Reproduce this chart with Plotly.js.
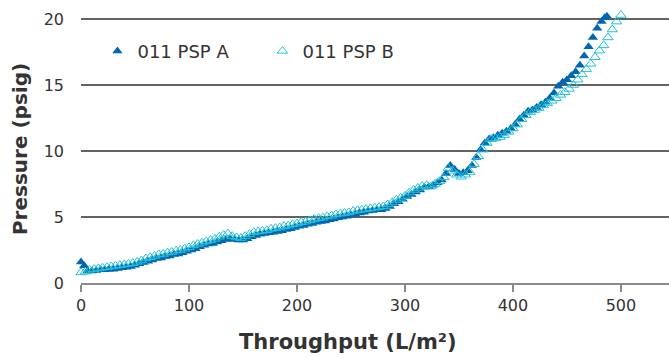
<!DOCTYPE html>
<html>
<head>
<meta charset="utf-8">
<script src="https://cdn.plot.ly/plotly-3.0.1.min.js"></script>
<style>html,body{margin:0;padding:0;background:#fff;}#chart{width:669px;height:358px;}</style>
</head>
<body>
<div id="chart"></div>
<script>
const seriesAName = "011 PSP A";
const seriesBName = "011 PSP B";

const throughputA = [0,3,6,10,14,18,22,26,30,34,38,42,46,50,54,58,62,66,70,74,78,82,86,90,94,98,102,106,110,114,118,122,126,130,134,138,142,146,150,154,158,162,166,170,174,178,182,186,190,194,198,202,206,210,214,218,222,226,230,234,238,242,246,250,254,258,262,266,270,274,278,282,286,290,294,298,302,306,310,314,318,322,326,330,334,338,342,346,350,354,358,362,366,370,374,378,382,386,390,394,398,402,406,410,414,418,422,426,430,434,438,442,446,450,454,458,462,466,470,474,478,482,485,487];
const pressureA = [1.6,1.3,0.9,0.9,0.95,1.0,1.0,1.05,1.05,1.1,1.15,1.2,1.25,1.35,1.45,1.55,1.65,1.75,1.85,1.9,2.0,2.05,2.15,2.2,2.3,2.4,2.5,2.6,2.75,2.85,2.95,3.0,3.1,3.2,3.3,3.35,3.3,3.25,3.25,3.35,3.5,3.6,3.7,3.75,3.8,3.85,3.9,3.95,4.05,4.1,4.2,4.3,4.35,4.45,4.5,4.6,4.65,4.7,4.8,4.85,4.95,5.0,5.05,5.15,5.2,5.3,5.35,5.45,5.5,5.55,5.55,5.65,5.8,6.0,6.15,6.35,6.55,6.7,6.9,7.05,7.25,7.3,7.4,7.6,7.8,8.3,8.9,8.6,8.3,8.35,8.5,8.9,9.5,10.1,10.6,10.9,11.0,11.2,11.35,11.5,11.7,12.0,12.4,12.7,13.0,13.1,13.3,13.5,13.7,14.0,14.4,14.9,15.2,15.4,15.7,16.0,16.5,17.2,17.9,18.6,19.3,19.8,20.1,20.2];

const throughputB = [0,4,8,12,16,20,24,28,32,36,40,44,48,52,56,60,64,68,72,76,80,84,88,92,96,100,104,108,112,116,120,124,128,132,136,140,144,148,152,156,160,164,168,172,176,180,184,188,192,196,200,204,208,212,216,220,224,228,232,236,240,244,248,252,256,260,264,268,272,276,280,284,288,292,296,300,304,308,312,316,320,324,328,332,336,340,344,348,352,356,360,364,368,372,376,380,384,388,392,396,400,404,408,412,416,420,424,428,432,436,440,444,448,452,456,460,464,468,472,476,480,484,488,492,496,500];
const pressureB = [0.8,0.85,1.0,1.05,1.1,1.15,1.2,1.25,1.3,1.35,1.4,1.45,1.5,1.6,1.7,1.85,1.95,2.05,2.15,2.2,2.3,2.35,2.45,2.5,2.6,2.7,2.85,2.95,3.05,3.15,3.25,3.35,3.5,3.65,3.75,3.55,3.45,3.4,3.55,3.7,3.85,3.9,3.95,4.0,4.1,4.15,4.2,4.3,4.35,4.45,4.5,4.6,4.65,4.75,4.85,4.9,4.95,5.05,5.1,5.2,5.25,5.3,5.35,5.45,5.5,5.55,5.6,5.65,5.7,5.75,5.8,5.95,6.1,6.3,6.45,6.6,6.85,7.05,7.2,7.35,7.4,7.3,7.5,7.7,8.0,8.7,8.5,8.2,8.05,8.2,8.4,9.0,9.6,10.1,10.6,10.9,10.95,11.05,11.2,11.45,11.7,12.0,12.4,12.7,12.95,13.1,13.25,13.45,13.6,13.8,14.0,14.25,14.45,14.7,15.0,15.4,15.8,16.2,16.6,17.1,17.6,18.0,18.6,19.2,19.8,20.3];

const xTickVals = [0,100,200,300,400,500];
const yTickVals = [0,5,10,15,20];
const xTitleText = "Throughput (L/m²)";
const yTitleText = "Pressure (psig)";

const fontFamily = "DejaVu Sans, Verdana, sans-serif";

const traces = [
  {
    x: throughputA, y: pressureA, name: seriesAName,
    type: "scatter", mode: "markers", cliponaxis: false,
    marker: {symbol: "triangle-up", size: 9, color: "#0066b3", line: {width: 0}}
  },
  {
    x: throughputB, y: pressureB, name: seriesBName,
    type: "scatter", mode: "markers", cliponaxis: false,
    marker: {symbol: "triangle-up-open", size: 9, color: "#22c3d6", line: {width: 1}}
  }
];

const layout = {
  width: 669, height: 358,
  margin: {l: 81, r: 0, t: 15, b: 75, pad: 0},
  paper_bgcolor: "#ffffff", plot_bgcolor: "#ffffff",
  font: {family: fontFamily, size: 16, color: "#333333"},
  showlegend: true,
  legend: {
    orientation: "h", x: 0.028, xanchor: "left", y: 0.865, yanchor: "middle",
    font: {family: fontFamily, size: 18, color: "#333333"},
    bgcolor: "rgba(0,0,0,0)", itemwidth: 30, entrywidth: 120, entrywidthmode: "pixels",
    traceorder: "normal"
  },
  xaxis: {
    range: [0, 544.5], tickvals: xTickVals, ticktext: xTickVals.map(String),
    showgrid: false, zeroline: false,
    showline: true, linecolor: "#8a8a8a", linewidth: 1.5,
    ticks: "outside", ticklen: 7, tickwidth: 1.5, tickcolor: "#8a8a8a",
    tickfont: {family: fontFamily, size: 16, color: "#333333"}
  },
  yaxis: {
    range: [0, 20.3], tickvals: yTickVals, ticktext: yTickVals.map(String),
    showgrid: true, gridcolor: "#626262", gridwidth: 1.5,
    zeroline: false, showline: false, ticks: "",
    ticklabelstandoff: 16,
    tickfont: {family: fontFamily, size: 16, color: "#333333"},
    title: {text: yTitleText, font: {family: fontFamily, size: 20, color: "#333333", weight: "bold"}, standoff: 10}
  },
  annotations: [
    {
      text: "<b>" + xTitleText + "</b>", xref: "paper", yref: "paper",
      x: 0.454, y: 0, xanchor: "center", yanchor: "middle", yshift: -59,
      showarrow: false, font: {family: fontFamily, size: 21, color: "#333333"}
    }
  ]
};

Plotly.newPlot("chart", traces, layout, {displayModeBar: false, staticPlot: true});
</script>
</body>
</html>
